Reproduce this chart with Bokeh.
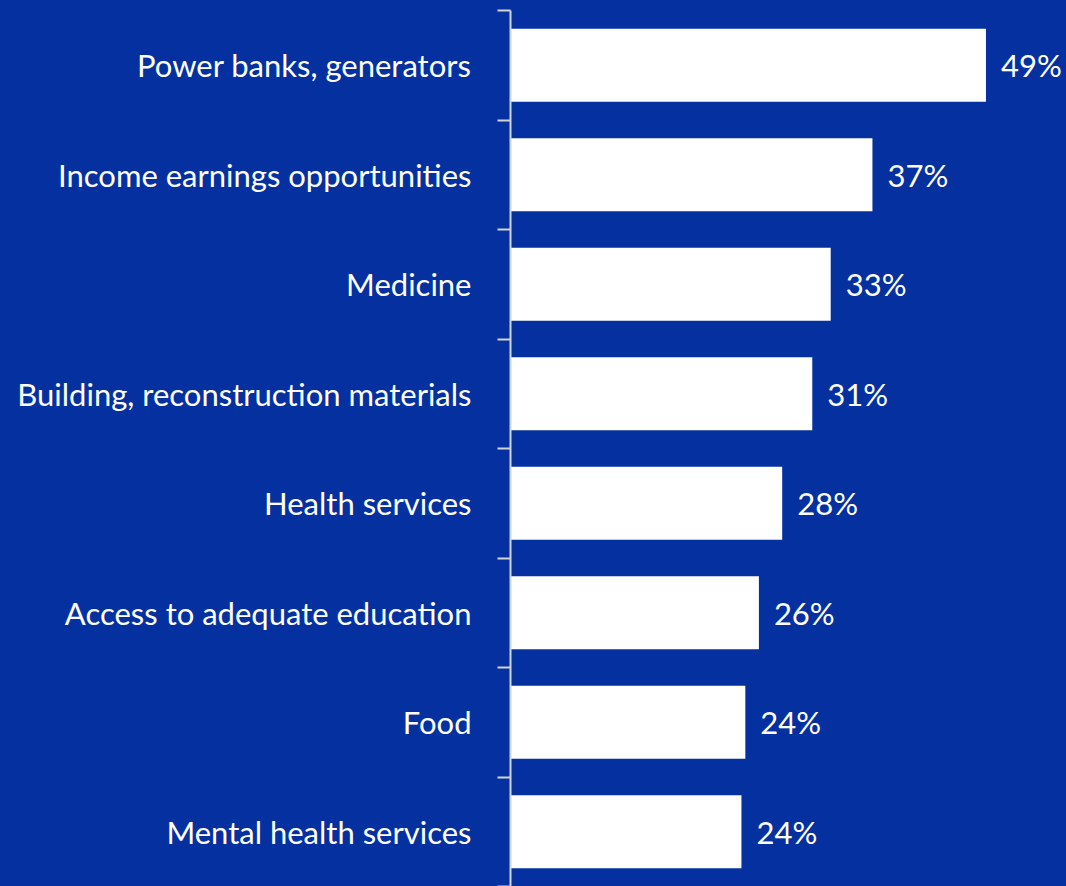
from bokeh.plotting import figure
from bokeh.models import Range1d, FixedTicker, ColumnDataSource, LabelSet
from bokeh.core.properties import value
from bokeh.embed import file_html
from bokeh.resources import INLINE

categories = [
    "Power banks, generators",
    "Income earnings opportunities",
    "Medicine",
    "Building, reconstruction materials",
    "Health services",
    "Access to adequate education",
    "Food",
    "Mental health services",
]
values = [49.0, 37.3, 33.0, 31.1, 28.0, 25.6, 24.2, 23.8]
value_labels = ["49%", "37%", "33%", "31%", "28%", "26%", "24%", "24%"]

BG = "#0531a0"
FONT = "Lato"
FSIZE = "31px"

n = len(categories)
centers = [i + 0.5 for i in range(n)]
bounds = [float(i) for i in range(n + 1)]

src = ColumnDataSource(dict(y=centers, v=values, lab=value_labels))

p = figure(width=1066, height=886, output_backend="svg", toolbar_location=None,
           x_range=Range1d(0, 57.3), y_range=Range1d(n, 0),
           min_border_left=510, min_border_right=0, min_border_top=10, min_border_bottom=0,
           background_fill_color=BG, border_fill_color=BG, outline_line_color=None)

p.hbar(y="y", right="v", left=0, height=0.665, source=src,
       fill_color="white", line_color=None)

labels = LabelSet(x="v", y="y", text="lab", source=src, x_offset=15,
                  text_align="left", text_baseline="middle",
                  text_color="white", text_font=value(FONT), text_font_size=value(FSIZE))
p.add_layout(labels)

p.xaxis.visible = False
p.grid.visible = False

ya = p.yaxis[0]
ya.ticker = FixedTicker(ticks=centers, minor_ticks=bounds)
ya.major_label_overrides = {c: cat for c, cat in zip(centers, categories)}
ya.major_tick_line_color = None
ya.major_tick_out = 0
ya.major_tick_in = 0
ya.minor_tick_out = 13
ya.minor_tick_in = 0
ya.minor_tick_line_color = "#d4d4d4"
ya.minor_tick_line_width = 2
ya.axis_line_color = "#d4d4d4"
ya.axis_line_width = 2
ya.major_label_standoff = 26
ya.major_label_text_color = "white"
ya.major_label_text_font = FONT
ya.major_label_text_font_size = FSIZE
ya.major_label_text_font_style = "normal"

html = file_html(p, INLINE)
html = html.replace("<head>", "<head><style>html,body{margin:0;padding:0;background:%s;overflow:hidden}</style>" % BG, 1)
open("out.html", "w").write(html)
